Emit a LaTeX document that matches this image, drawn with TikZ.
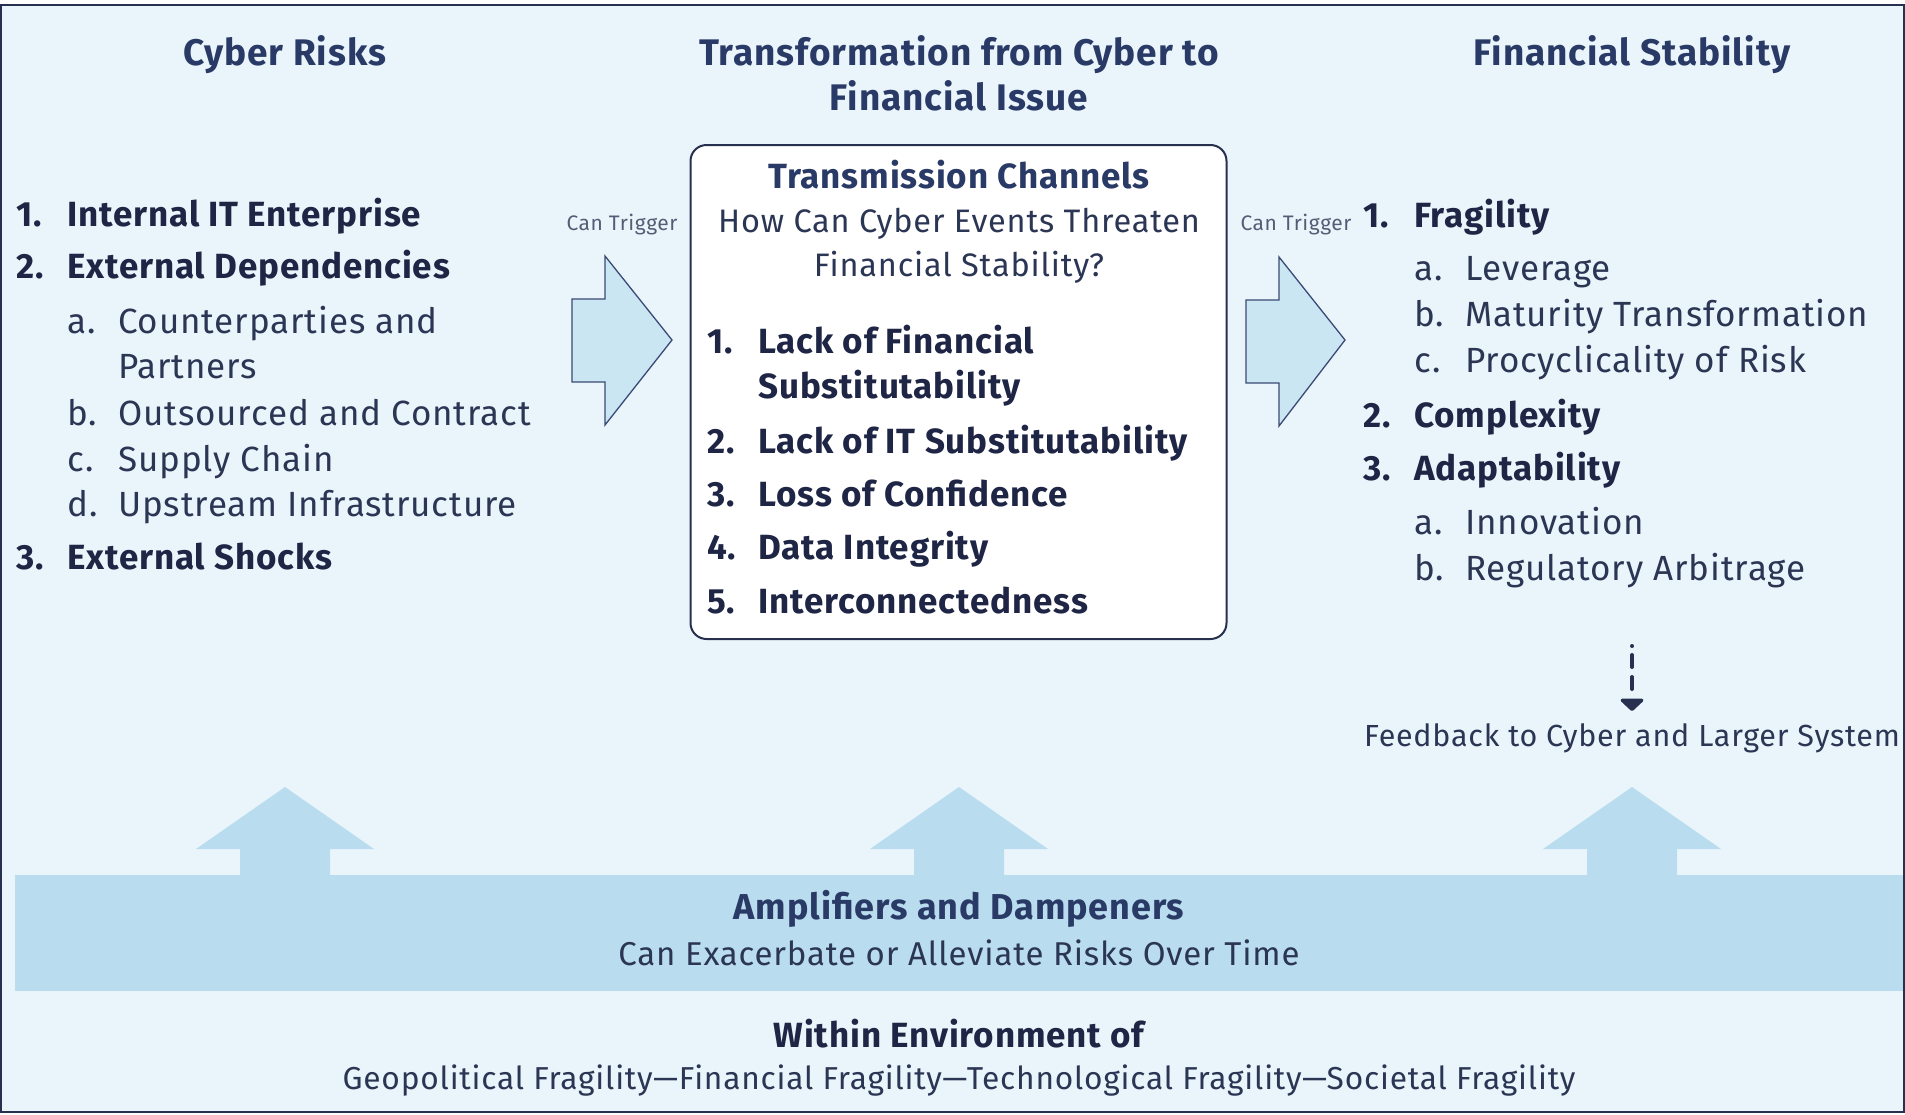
\documentclass[tikz,border=0pt]{standalone}
\usepackage{fontspec}
\setmainfont{Fira Sans}[LetterSpace=2.5]
\usetikzlibrary{arrows.meta}
\definecolor{bg}{HTML}{EAF5FB}
\definecolor{framecol}{HTML}{27304F}
\definecolor{hdcol}{HTML}{2A3A66}
\definecolor{txt}{HTML}{1E2545}
\definecolor{rtxt}{HTML}{2B3554}
\definecolor{bandcol}{HTML}{B9DDEE}
\definecolor{arrfill}{HTML}{CBE6F3}
\definecolor{arrline}{HTML}{3A4A75}
\begin{document}
\begin{tikzpicture}[x=1pt,y=-1pt,
  hd/.style={font=\fontsize{37}{42}\selectfont\bfseries, text=hdcol, inner sep=0pt, anchor=base},
  bitem/.style={font=\fontsize{35}{40}\selectfont\bfseries, text=txt, inner sep=0pt, anchor=base west},
  ritem/.style={font=\fontsize{35}{40}\selectfont, text=rtxt, inner sep=0pt, anchor=base west},
  rcenter/.style={font=\fontsize{32.5}{40}\selectfont, text=rtxt, inner sep=0pt, anchor=base},
  bcenter/.style={font=\fontsize{35}{40}\selectfont\bfseries, text=hdcol, inner sep=0pt, anchor=base},
  smalltxt/.style={font=\fontsize{21}{24}\selectfont, text=rtxt!80, inner sep=0pt, anchor=base},
  blockarrow/.style={draw=arrline, fill=arrfill, line width=1.3pt, line join=miter},
  uparrow/.style={fill=bandcol}
]
\useasboundingbox (0,0) rectangle (1905,1114);
\fill[white] (0,0) rectangle (1905,1114);
\fill[bg] (1,5) rectangle (1904,1112);
\draw[framecol, line width=2.5pt] (1,5) rectangle (1904,1112);

% headings
\node[hd] (h1) at (285,65) {Cyber Risks};
\node[hd] (h2a) at (959,65) {Transformation from Cyber to};
\node[hd] (h2b) at (959,110) {Financial Issue};
\node[hd] (h3) at (1632,65) {Financial Stability};

% left list
\node[bitem] (l1n) at (16,226) {1.};
\node[bitem] (l1) at (67,226) {Internal IT Enterprise};
\node[bitem] (l2n) at (16,278) {2.};
\node[bitem] (l2) at (67,278) {External Dependencies};
\node[ritem] (l2an) at (67,333) {a.};
\node[ritem] (l2a) at (118,333) {Counterparties and};
\node[ritem] (l2a2) at (118,378) {Partners};
\node[ritem] (l2bn) at (67,425) {b.};
\node[ritem] (l2b) at (118,425) {Outsourced and Contract};
\node[ritem] (l2cn) at (67,471) {c.};
\node[ritem] (l2c) at (118,471) {Supply Chain};
\node[ritem] (l2dn) at (67,516) {d.};
\node[ritem] (l2d) at (118,516) {Upstream Infrastructure};
\node[bitem] (l3n) at (16,569) {3.};
\node[bitem] (l3) at (67,569) {External Shocks};

% left block arrow
\node[smalltxt] (ct1) at (622,230) {Can Trigger};
\draw[blockarrow] (572,299) -- (605,299) -- (605,256) -- (672,340) -- (605,425) -- (605,382) -- (572,382) -- cycle;

% center box
\node[draw=framecol, line width=2pt, rounded corners=16pt, fill=white, minimum width=536pt, minimum height=494pt, inner sep=0pt] (box) at (958.5,392) {};
\node[bcenter] (tc) at (959,188) {Transmission Channels};
\node[rcenter] (tq1) at (959,232) {How Can Cyber Events Threaten};
\node[rcenter] (tq2) at (959,276) {Financial Stability?};
\node[bitem] (c1n) at (707,353) {1.};
\node[bitem] (c1) at (758,353) {Lack of Financial};
\node[bitem] (c1b) at (758,398) {Substitutability};
\node[bitem] (c2n) at (707,453) {2.};
\node[bitem] (c2) at (758,453) {Lack of IT Substitutability};
\node[bitem] (c3n) at (707,506) {3.};
\node[bitem] (c3) at (758,506) {Loss of Confidence};
\node[bitem] (c4n) at (707,559) {4.};
\node[bitem] (c4) at (758,559) {Data Integrity};
\node[bitem] (c5n) at (707,613) {5.};
\node[bitem] (c5) at (758,613) {Interconnectedness};

% right block arrow
\node[smalltxt] (ct2) at (1296,230) {Can Trigger};
\draw[blockarrow] (1246,300) -- (1279,300) -- (1279,257) -- (1345,340) -- (1279,426) -- (1279,383) -- (1246,383) -- cycle;

% right list
\node[bitem] (r1n) at (1363,227) {1.};
\node[bitem] (r1) at (1414,227) {Fragility};
\node[ritem] (r1an) at (1414,280) {a.};
\node[ritem] (r1a) at (1465,280) {Leverage};
\node[ritem] (r1bn) at (1414,326) {b.};
\node[ritem] (r1b) at (1465,326) {Maturity Transformation};
\node[ritem] (r1cn) at (1414,372) {c.};
\node[ritem] (r1c) at (1465,372) {Procyclicality of Risk};
\node[bitem] (r2n) at (1363,427) {2.};
\node[bitem] (r2) at (1414,427) {Complexity};
\node[bitem] (r3n) at (1363,480) {3.};
\node[bitem] (r3) at (1414,480) {Adaptability};
\node[ritem] (r3an) at (1414,534) {a.};
\node[ritem] (r3a) at (1465,534) {Innovation};
\node[ritem] (r3bn) at (1414,580) {b.};
\node[ritem] (r3b) at (1465,580) {Regulatory Arbitrage};

% feedback
\coordinate (fbtop) at (1632,646);
\coordinate (fbtip) at (1632,711);
\draw[framecol, line width=4pt, line cap=round, dash pattern=on 0pt off 9pt on 12pt off 10pt on 12pt off 30pt, -{Triangle[width=27pt,length=13pt,round=false]}] (fbtop) -- (fbtip);
\node[rcenter, font=\fontsize{30.5}{34}\selectfont] (fb) at (1632,746) {Feedback to Cyber and Larger System};

% band and up arrows
\fill[bandcol] (15,875) rectangle (1903,991);
\foreach \cx/\nm in {285/ua1,959/ua2,1632/ua3}{
  \fill[uparrow] (\cx-45,876) -- (\cx-45,849) -- (\cx-89,849) -- (\cx,787) -- (\cx+89,849) -- (\cx+45,849) -- (\cx+45,876) -- cycle;
}
\node[bcenter, font=\fontsize{36}{40}\selectfont\bfseries] (amp) at (959,919) {Amplifiers and Dampeners};
\node[rcenter, font=\fontsize{33}{40}\selectfont] (amp2) at (959,965) {Can Exacerbate or Alleviate Risks Over Time};

% environment
\node[bcenter, text=txt] (env) at (959,1047) {Within Environment of};
\node[rcenter, font=\fontsize{31.7}{34}\selectfont] (env2) at (959,1089) {Geopolitical Fragility—Financial Fragility—Technological Fragility—Societal Fragility};
\end{tikzpicture}
\end{document}
